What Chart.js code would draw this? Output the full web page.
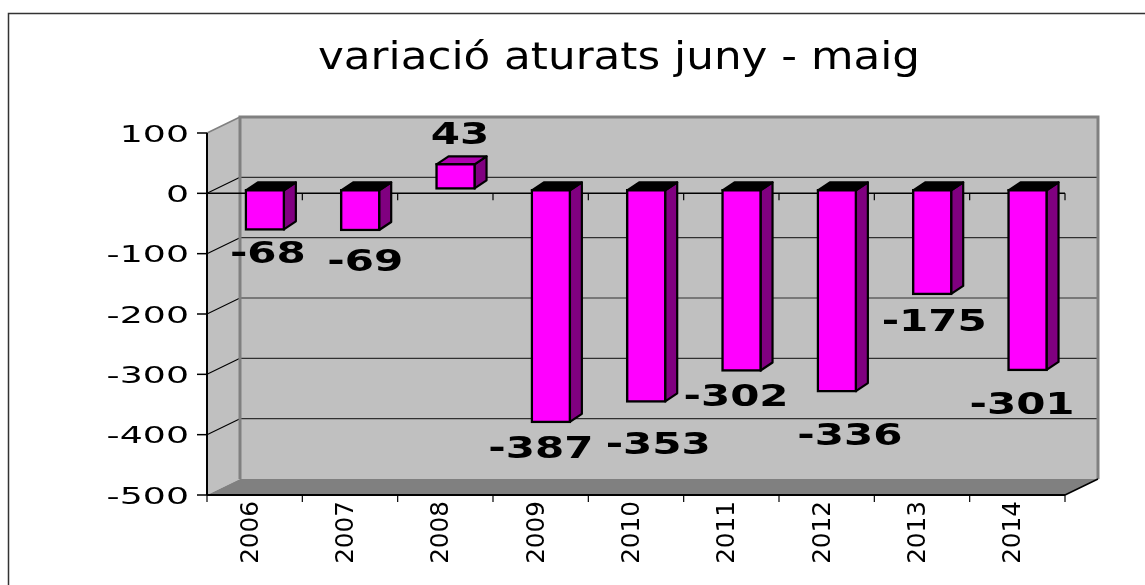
<!DOCTYPE html>
<html>
<head>
<meta charset="utf-8">
<script src="https://cdn.jsdelivr.net/npm/chart.js@4.4.1/dist/chart.umd.min.js"></script>
<style>
html,body{margin:0;padding:0;background:#ffffff;}
canvas{display:block;}
</style>
</head>
<body>
<canvas id="c" width="1145" height="585"></canvas>
<script>
// ---------- data ----------
const TITLE = 'variació aturats juny - maig';
const categories = ['2006','2007','2008','2009','2010','2011','2012','2013','2014'];
const values = [-68, -69, 43, -387, -353, -302, -336, -175, -301];
const yTicks = [100, 0, -100, -200, -300, -400, -500];

// ---------- layout / style ----------
const WALL = {dx: 33, dy: -16};        // depth of the 3D walls
const BAR_SHIFT = {dx: 10.2, dy: -4};  // bar front face sits a bit inside the box
const BAR_DEPTH = {dx: 12, dy: -8};    // depth of each bar
const LABEL_NUDGE = [[3,22],[5,29],[4.5,-30],[-10,24],[12,41],[-5.5,23.5],[13,42],[2,25],[-5.5,32]];
const FONT = '"DejaVu Sans", Verdana, sans-serif';

function poly(ctx, pts){
  ctx.beginPath();
  ctx.moveTo(pts[0][0], pts[0][1]);
  for (let i = 1; i < pts.length; i++) ctx.lineTo(pts[i][0], pts[i][1]);
  ctx.closePath();
}
function line(ctx, x1, y1, x2, y2){
  ctx.beginPath(); ctx.moveTo(x1, y1); ctx.lineTo(x2, y2); ctx.stroke();
}

const scene = {
  id: 'scene',
  beforeDatasetsDraw(chart){
    const {ctx, chartArea: a, scales: {x, y}} = chart;
    const L = a.left, R = a.right, T = a.top, B = a.bottom;
    const dx = WALL.dx, dy = WALL.dy;
    ctx.save();

    // outer frame
    ctx.strokeStyle = '#333333'; ctx.lineWidth = 1.5;
    ctx.strokeRect(8.5, 13.5, 1300, 800);

    // title
    ctx.save();
    ctx.fillStyle = '#000000';
    ctx.font = '37px ' + FONT;
    ctx.textAlign = 'center'; ctx.textBaseline = 'alphabetic';
    ctx.translate(619, 69); ctx.scale(1.18, 1);
    ctx.fillText(chart.options.plugins.title.text, 0, 0);
    ctx.restore();

    // walls
    ctx.fillStyle = '#C0C0C0';
    poly(ctx, [[L, T], [L + dx, T + dy], [L + dx, B + dy], [L, B]]); ctx.fill();
    ctx.fillRect(L + dx, T + dy, R - L, B - T);
    ctx.fillStyle = '#808080';
    poly(ctx, [[L, B], [L + dx, B + dy], [R + dx, B + dy], [R, B]]); ctx.fill();

    // gridlines
    const vmax = Math.max(...yTicks), vmin = Math.min(...yTicks);
    yTicks.forEach(v => {
      const yy = y.getPixelForValue(v);
      if (v !== vmax && v !== vmin) {
        ctx.strokeStyle = '#303030'; ctx.lineWidth = 1.1;
        line(ctx, L + dx, yy + dy, R + dx, yy + dy);
        ctx.strokeStyle = '#000000';
        line(ctx, L, yy, L + dx, yy + dy);
      }
    });

    // wall edges
    ctx.strokeStyle = '#808080'; ctx.lineWidth = 3;
    ctx.beginPath();
    ctx.moveTo(L + dx, B + dy); ctx.lineTo(L + dx, T + dy);
    ctx.lineTo(R + dx, T + dy); ctx.lineTo(R + dx, B + dy);
    ctx.stroke();
    ctx.lineWidth = 1.5;
    line(ctx, L, T, L + dx, T + dy);

    const n = categories.length;
    const cw = (R - L) / n;

    // category axis at value 0 (front)
    const y0 = y.getPixelForValue(0);
    ctx.strokeStyle = '#000000'; ctx.lineWidth = 1.5;
    line(ctx, L, y0, R, y0);
    ctx.lineWidth = 1.2;
    for (let i = 1; i <= n; i++) line(ctx, L + i * cw, y0, L + i * cw, y0 + 7);

    // bottom front edge + ticks
    ctx.lineWidth = 2;
    line(ctx, L, B, R, B);
    ctx.lineWidth = 1.5;
    line(ctx, R, B, R + dx, B + dy);
    ctx.lineWidth = 1.2;
    for (let i = 0; i <= n; i++) line(ctx, L + i * cw, B, L + i * cw, B + 7);

    // value axis
    ctx.lineWidth = 2;
    line(ctx, L, T, L, B);
    ctx.lineWidth = 1.5;
    ctx.fillStyle = '#000000';
    ctx.font = '22px ' + FONT;
    yTicks.forEach(v => {
      const yy = y.getPixelForValue(v);
      line(ctx, L - 10, yy, L, yy);
      ctx.save();
      ctx.translate(L - 18, yy + 8.5);
      ctx.scale(1.65, 1.05);
      ctx.textAlign = 'right'; ctx.textBaseline = 'alphabetic';
      ctx.fillText(String(v), 0, 0);
      ctx.restore();
    });

    // category labels (rotated)
    ctx.font = '26px ' + FONT;
    categories.forEach((c, i) => {
      const cx = x.getPixelForValue(i);
      ctx.save();
      ctx.translate(cx + 3, B + 6);
      ctx.rotate(-Math.PI / 2);
      ctx.scale(0.95, 0.92);
      ctx.textAlign = 'right'; ctx.textBaseline = 'alphabetic';
      ctx.fillText(c, 0, 0);
      ctx.restore();
    });
    ctx.restore();

    // bars: shift, then draw side and top faces behind the front faces
    ctx.save();
    ctx.translate(BAR_SHIFT.dx, BAR_SHIFT.dy);
    const meta = chart.getDatasetMeta(0);
    meta.data.forEach((el, i) => {
      const p = el.getProps(['x', 'y', 'base', 'width'], true);
      const left = p.x - p.width / 2 + 1, right = p.x + p.width / 2 - 1;
      const top = Math.min(p.y, p.base) + 1, bot = Math.max(p.y, p.base) - 1;
      const bx = BAR_DEPTH.dx, by = BAR_DEPTH.dy;
      ctx.lineWidth = 2.2; ctx.strokeStyle = '#000000'; ctx.lineJoin = 'round';
      ctx.fillStyle = '#800080';
      poly(ctx, [[right, top], [right + bx, top + by], [right + bx, bot + by], [right, bot]]);
      ctx.fill(); ctx.stroke();
      ctx.fillStyle = values[i] < 0 ? '#000000' : '#B000B0';
      poly(ctx, [[left, top], [left + bx, top + by], [right + bx, top + by], [right, top]]);
      ctx.fill(); ctx.stroke();
    });
  },
  afterDatasetsDraw(chart){
    const {ctx} = chart;
    ctx.restore();
    const meta = chart.getDatasetMeta(0);
    ctx.save();
    ctx.fillStyle = '#000000';
    ctx.font = 'bold 30px ' + FONT;
    meta.data.forEach((el, i) => {
      const p = el.getProps(['x', 'y'], true);
      const cx = p.x + BAR_SHIFT.dx + LABEL_NUDGE[i][0];
      const cy = p.y + BAR_SHIFT.dy + LABEL_NUDGE[i][1];
      ctx.save();
      ctx.translate(cx, cy + 10.9);
      ctx.scale(1.4, 1);
      ctx.textAlign = 'center'; ctx.textBaseline = 'alphabetic';
      ctx.fillText(String(values[i]), 0, 0);
      ctx.restore();
    });
    ctx.restore();
  }
};

new Chart(document.getElementById('c'), {
  type: 'bar',
  data: {
    labels: categories,
    datasets: [{
      data: values,
      backgroundColor: '#FF00FF',
      borderColor: '#000000',
      borderWidth: 2.5,
      borderSkipped: false,
      barThickness: 40,
      clip: false
    }]
  },
  options: {
    responsive: false,
    animation: false,
    devicePixelRatio: 1,
    layout: {padding: {left: 207, right: 80, top: 133, bottom: 90}},
    scales: {
      x: {type: 'category', display: false, offset: true},
      y: {display: false, min: Math.min(...yTicks), max: Math.max(...yTicks), ticks: {stepSize: 100}}
    },
    plugins: {
      legend: {display: false},
      tooltip: {enabled: false},
      title: {display: false, text: TITLE}
    }
  },
  plugins: [scene]
});
</script>
</body>
</html>
